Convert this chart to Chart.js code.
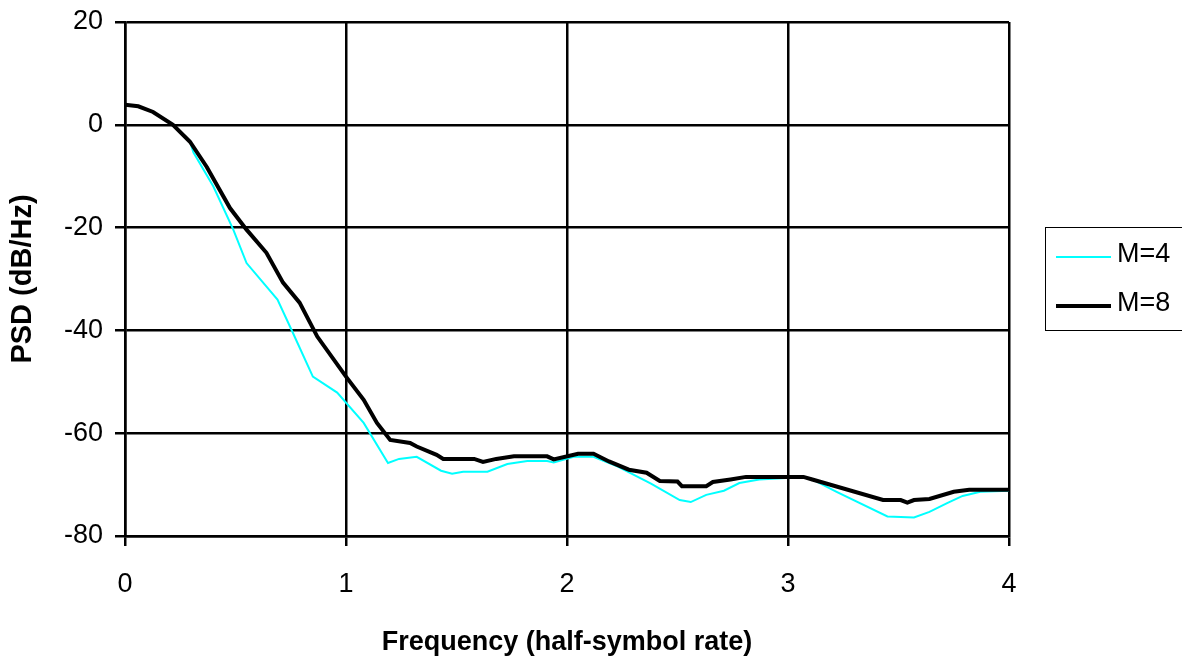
<!DOCTYPE html>
<html>
<head>
<meta charset="utf-8">
<script src="https://cdn.jsdelivr.net/npm/chart.js@4/dist/chart.umd.min.js"></script>
<style>
html,body{margin:0;padding:0;background:#fff;}
#wrap{width:1182px;height:658px;}
</style>
</head>
<body>
<div id="wrap"><canvas id="c" width="1182" height="658"></canvas></div>
<script>
// Data
const freqM4 = [0, 0.06, 0.127, 0.217, 0.294, 0.31, 0.40, 0.49, 0.55, 0.69, 0.76, 0.85, 0.96, 1.08, 1.19, 1.24, 1.32, 1.43, 1.48, 1.53, 1.64, 1.73, 1.82, 1.91, 1.94, 2.03, 2.12, 2.23, 2.38, 2.51, 2.56, 2.63, 2.71, 2.78, 2.87, 3.07, 3.11, 3.22, 3.45, 3.57, 3.64, 3.72, 3.79, 3.87, 4.0];
const psdM4 = [3.9, 3.6, 2.5, 0, -3.3, -5.4, -12, -20.4, -26.9, -34, -40.5, -49, -52.1, -58, -65.8, -65, -64.6, -67.3, -67.9, -67.5, -67.5, -66, -65.4, -65.4, -65.7, -64.6, -64.6, -66.5, -69.8, -73, -73.4, -72, -71.2, -69.7, -69, -68.5, -69, -71.4, -76.2, -76.4, -75.3, -73.6, -72.2, -71.4, -71.2];
const freqM8 = [0, 0.06, 0.127, 0.217, 0.294, 0.37, 0.475, 0.55, 0.64, 0.715, 0.79, 0.87, 1.0, 1.08, 1.14, 1.2, 1.29, 1.32, 1.41, 1.44, 1.58, 1.62, 1.68, 1.76, 1.91, 1.94, 2.05, 2.12, 2.19, 2.28, 2.36, 2.42, 2.5, 2.52, 2.63, 2.66, 2.74, 2.81, 3.07, 3.11, 3.43, 3.51, 3.54, 3.57, 3.64, 3.75, 3.82, 4.0];
const psdM8 = [3.9, 3.6, 2.5, 0, -3.3, -8.2, -16.2, -20.4, -24.9, -30.7, -34.6, -41.2, -49, -53.5, -58, -61.3, -61.9, -62.6, -64.2, -65, -65, -65.6, -65, -64.5, -64.5, -65.1, -64, -64, -65.5, -67.1, -67.7, -69.3, -69.4, -70.3, -70.3, -69.5, -69, -68.5, -68.5, -69, -73, -73, -73.5, -73, -72.8, -71.4, -71, -71];
const seriesLabels = ['M=4', 'M=8'];
const xTitle = 'Frequency (half-symbol rate)';
const yTitle = 'PSD (dB/Hz)';
const xMin = 0, xMax = 4, xStep = 1;
const yMin = -80, yMax = 20, yStep = 20;

const toPts = (xs, ys) => xs.map((x, i) => ({x: x, y: ys[i]}));

const FONT = '"Liberation Sans", Arial, sans-serif';

const legendPlugin = {
  id: 'boxLegend',
  afterDraw(chart) {
    const ctx = chart.ctx;
    ctx.save();
    const bx = 1045.5, by = 227.5, bw = 140, bh = 103;
    ctx.fillStyle = '#fff';
    ctx.fillRect(bx, by, bw, bh);
    ctx.strokeStyle = '#000';
    ctx.lineWidth = 1;
    ctx.strokeRect(bx, by, bw, bh);
    const rows = [257, 306];
    chart.data.datasets.forEach((ds, i) => {
      const y = rows[i];
      ctx.strokeStyle = ds.borderColor;
      ctx.lineWidth = ds.borderWidth;
      ctx.beginPath();
      ctx.moveTo(1056, y);
      ctx.lineTo(1111, y);
      ctx.stroke();
      ctx.fillStyle = '#000';
      ctx.font = '27px ' + FONT;
      ctx.textBaseline = 'middle';
      ctx.textAlign = 'left';
      ctx.fillText(ds.label, 1117, y - 2);
    });
    ctx.restore();
  }
};

new Chart(document.getElementById('c'), {
  type: 'scatter',
  data: {
    datasets: [
      {label: seriesLabels[0], data: toPts(freqM4, psdM4), showLine: true, borderColor: '#00FFFF', backgroundColor: '#00FFFF', borderWidth: 2, pointRadius: 0, tension: 0, order: 1},
      {label: seriesLabels[1], data: toPts(freqM8, psdM8), showLine: true, borderColor: '#000000', backgroundColor: '#000000', borderWidth: 4, pointRadius: 0, tension: 0, order: 0}
    ]
  },
  options: {
    responsive: false,
    animation: false,
    layout: {padding: {left: 0, right: 173, top: 22, bottom: 0}},
    plugins: {legend: {display: false}, tooltip: {enabled: false}},
    scales: {
      x: {
        type: 'linear', min: xMin, max: xMax,
        ticks: {stepSize: xStep, color: '#000', font: {family: FONT, size: 27}, padding: 22, maxRotation: 0},
        grid: {color: '#000', lineWidth: 2.5, tickLength: 10, drawTicks: true},
        border: {display: true, color: '#000', width: 2.5},
        title: {display: true, text: xTitle, color: '#000', font: {family: FONT, size: 27, weight: 'bold'}, padding: {top: 0, bottom: -1}},
        afterFit(s) { s.height = 122; s.paddingLeft = 0; s.paddingRight = 0; }
      },
      y: {
        type: 'linear', min: yMin, max: yMax,
        ticks: {stepSize: yStep, color: '#000', font: {family: FONT, size: 27}, padding: 12},
        grid: {color: '#000', lineWidth: 2.5, tickLength: 10, drawTicks: true},
        border: {display: true, color: '#000', width: 2.5},
        title: {display: true, text: yTitle, color: '#000', font: {family: FONT, size: 29, weight: 'bold'}, padding: {top: 6, bottom: 0}},
        afterFit(s) { s.width = 125; s.paddingTop = 0; s.paddingBottom = 0; }
      }
    }
  },
  plugins: [legendPlugin]
});
</script>
</body>
</html>
